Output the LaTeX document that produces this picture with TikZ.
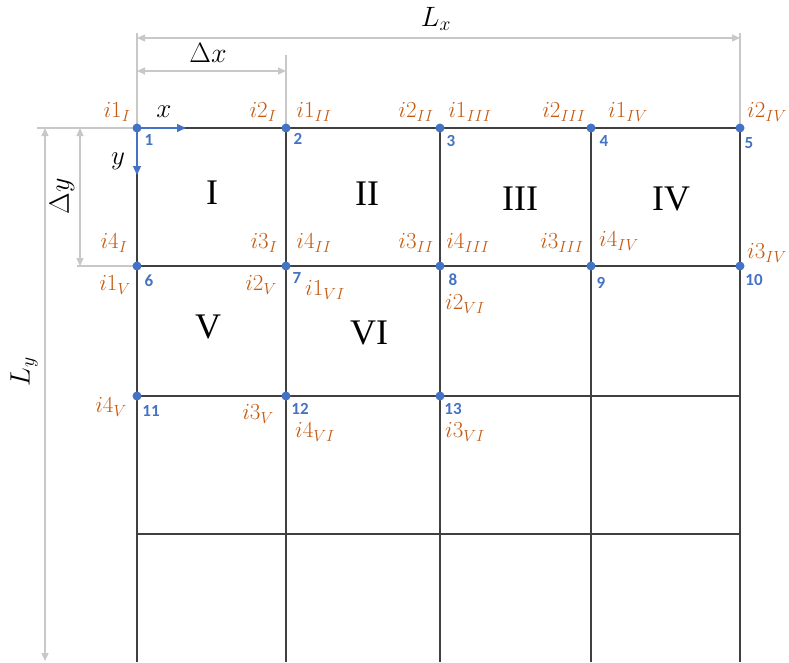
\RequirePackage{fix-cm}
\documentclass[tikz,border=0pt]{standalone}
\usepackage{fontspec}
\usetikzlibrary{arrows.meta}
\newfontfamily\romfont{Liberation Serif}
\newfontfamily\numfont{Carlito}
\definecolor{gridc}{HTML}{404040}
\definecolor{dimc}{HTML}{C8C8C8}
\definecolor{nodeblue}{HTML}{4472C4}
\definecolor{labc}{HTML}{C55A11}
\begin{document}
\begin{tikzpicture}[x=1pt,y=-1pt,
  gridline/.style={draw=gridc, line width=1.3pt},
  dimline/.style={draw=dimc, line width=1.2pt},
  dimarrow/.style={dimline, {Triangle[length=8pt,width=7pt]}-{Triangle[length=8pt,width=7pt]}},
  axisarrow/.style={draw=nodeblue, line width=1.4pt, -{Triangle[length=9pt,width=8pt]}},
  dot/.style={circle, fill=nodeblue, inner sep=0pt, minimum size=9pt},
  num/.style={text=nodeblue, font=\numfont\bfseries\fontsize{17}{17}\selectfont, inner sep=0pt},
  lab/.style={text=labc, font=\fontsize{23}{26}\selectfont, inner sep=0pt},
  dimlab/.style={font=\fontsize{28}{30}\selectfont, inner sep=0pt},
  axlab/.style={font=\fontsize{27}{30}\selectfont, inner sep=0pt},
  cell/.style={font=\romfont\fontsize{36}{36}\selectfont, inner sep=0pt}]
\useasboundingbox (0,0) rectangle (789,662);

% grid points
\foreach \c/\x in {0/137,1/286,2/440,3/591,4/740}{
  \foreach \r/\y in {0/128,1/266,2/396,3/534,4/662}{
    \coordinate (g\r\c) at (\x,\y);
  }
}
% grid lines
\foreach \r in {0,...,3} \draw[gridline] (g\r0) -- (g\r4);
\foreach \c in {0,...,4} \draw[gridline] (g0\c) -- (g4\c);

% dimension extension lines
\coordinate (ex1) at (137,33);
\coordinate (ex2) at (740,33);
\coordinate (ex3) at (286,55);
\coordinate (ey1) at (37,128);
\coordinate (ey2) at (77,266);
\draw[dimline] (ex1) -- (g00);
\draw[dimline] (ex2) -- (g04);
\draw[dimline] (ex3) -- (g01);
\draw[dimline] (ey1) -- (g00);
\draw[dimline] (ey2) -- (g10);

% dimension arrows
\coordinate (lxa) at (137,38);  \coordinate (lxb) at (740,38);
\coordinate (dxa) at (137,71);  \coordinate (dxb) at (286,71);
\coordinate (lya) at (45,128);  \coordinate (lyb) at (45,661);
\coordinate (dya) at (80,128);  \coordinate (dyb) at (80,266);
\draw[dimarrow] (lxa) -- (lxb);
\draw[dimarrow] (dxa) -- (dxb);
\draw[dimarrow] (lya) -- (lyb);
\draw[dimarrow] (dya) -- (dyb);
\node[dimlab] (Lx) at (436,19) {$L_x$};
\node[dimlab] (Dx) at (208,53) {$\Delta x$};
\node[dimlab, rotate=90] (Ly) at (24,372) {$L_y$};
\node[dimlab, rotate=90] (Dy) at (62,196) {$\Delta y$};

% axes
\coordinate (xend) at (186,128);
\coordinate (yend) at (137,175);
\draw[axisarrow] (g00) -- (xend);
\draw[axisarrow] (g00) -- (yend);
\node[axlab] (xl) at (164,112) {$x$};
\node[axlab] (yl) at (118,161) {$y$};

% nodes
\foreach \n/\p in {1/g00,2/g01,3/g02,4/g03,5/g04,6/g10,7/g11,8/g12,9/g13,10/g14,11/g20,12/g21,13/g22}{
  \node[dot] (n\n) at (\p) {};
}

% node numbers
\node[num] (t1) at (149,140) {1};
\node[num] (t2) at (298,139) {2};
\node[num] (t3) at (451,141) {3};
\node[num] (t4) at (604,141) {4};
\node[num] (t5) at (749,143) {5};
\node[num] (t6) at (149,281) {6};
\node[num] (t7) at (297,278) {7};
\node[num] (t8) at (453,280) {8};
\node[num] (t9) at (601,283) {9};
\node[num] (t10) at (754,280) {10};
\node[num] (t11) at (151,411) {11};
\node[num] (t12) at (300,409) {12};
\node[num] (t13) at (453,409) {13};

% local index labels
\node[lab] (a1) at (117,112) {$i1_{I}$};
\node[lab] (a2) at (263,112) {$i2_{I}$};
\node[lab] (a3) at (314,112) {$i1_{II}$};
\node[lab] (a4) at (416,112) {$i2_{II}$};
\node[lab] (a5) at (470,112) {$i1_{III}$};
\node[lab] (a6) at (564,112) {$i2_{III}$};
\node[lab] (a7) at (628,112) {$i1_{IV}$};
\node[lab] (a8) at (767,112) {$i2_{IV}$};
\node[lab] (b1) at (114,243) {$i4_{I}$};
\node[lab] (b2) at (264,243) {$i3_{I}$};
\node[lab] (b3) at (314,243) {$i4_{II}$};
\node[lab] (b4) at (416,243) {$i3_{II}$};
\node[lab] (b5) at (468,243) {$i4_{III}$};
\node[lab] (b6) at (562,243) {$i3_{III}$};
\node[lab] (b7) at (619,241) {$i4_{IV}$};
\node[lab] (b8) at (767,253) {$i3_{IV}$};
\node[lab] (c1) at (115,285) {$i1_{V}$};
\node[lab] (c2) at (261,285) {$i2_{V}$};
\node[lab] (c3) at (325,290) {$i1_{VI}$};
\node[lab] (c4) at (465,304) {$i2_{VI}$};
\node[lab] (d1) at (111,407) {$i4_{V}$};
\node[lab] (d2) at (258,414) {$i3_{V}$};
\node[lab] (d3) at (315,432) {$i4_{VI}$};
\node[lab] (d4) at (465,432) {$i3_{VI}$};

% element numbers
\node[cell] (e1) at (212,193) {I};
\node[cell] (e2) at (367,194) {II};
\node[cell] (e3) at (520,199) {III};
\node[cell] (e4) at (671,199) {IV};
\node[cell] (e5) at (208,327) {V};
\node[cell] (e6) at (369,333) {VI};
\end{tikzpicture}
\end{document}
